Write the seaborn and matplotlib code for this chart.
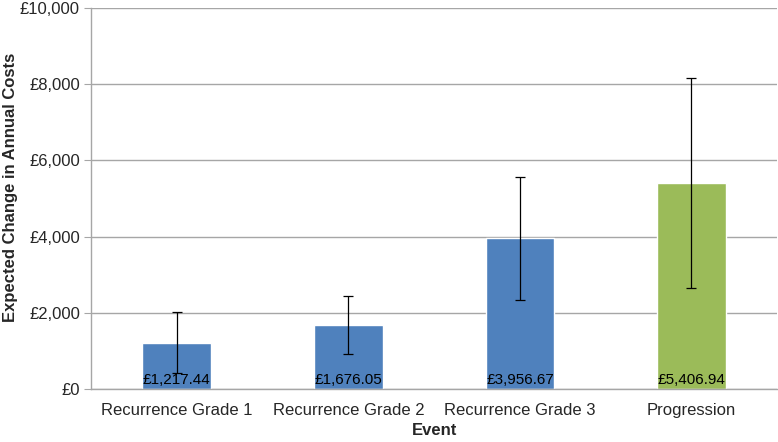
import matplotlib
matplotlib.use("Agg")
import matplotlib.pyplot as plt
from matplotlib.ticker import FuncFormatter, FixedLocator
import numpy as np
import pandas as pd
import seaborn as sns

# ── Data ──────────────────────────────────────────────────────────────────────
events = ["Recurrence Grade 1", "Recurrence Grade 2", "Recurrence Grade 3", "Progression"]
costs = [1217.44, 1676.05, 3956.67, 5406.94]
ci_low = [410, 920, 2335, 2660]
ci_high = [2030, 2435, 5575, 8155]
bar_colors = ["#4F81BD", "#4F81BD", "#4F81BD", "#9BBB59"]

df = pd.DataFrame({"Event": events, "Cost": costs})

# ── Plot ──────────────────────────────────────────────────────────────────────
sns.set_style("white")
plt.rcParams["font.family"] = ["Liberation Sans", "DejaVu Sans"]

fig = plt.figure(figsize=(7.78, 4.42), dpi=100)
ax = fig.add_axes([0.117, 0.12, 0.882, 0.862])

sns.barplot(data=df, x="Event", y="Cost", hue="Event", palette=bar_colors,
            saturation=1, width=0.4, legend=False, errorbar=None, ax=ax, zorder=2)

x = np.arange(len(events))
yerr = [np.array(costs) - np.array(ci_low), np.array(ci_high) - np.array(costs)]
ax.errorbar(x, costs, yerr=yerr, fmt="none", ecolor="black", elinewidth=0.9,
            capsize=3.5, capthick=0.9, zorder=3)

for xi, v in zip(x, costs):
    ax.text(xi, 60, f"£{v:,.2f}", ha="center", va="bottom", fontsize=11,
            color="black", zorder=4)

ax.set_ylim(0, 10000)
ax.set_xlim(-0.5, len(events) - 0.5)
ax.set_yticks(np.arange(0, 10001, 2000))
ax.yaxis.set_major_formatter(FuncFormatter(lambda v, p: f"£{v:,.0f}"))
ax.yaxis.grid(True, color="#A6A6A6", linewidth=1.0, zorder=0)
ax.set_axisbelow(True)

ax.xaxis.set_minor_locator(FixedLocator(np.arange(-0.5, len(events), 1.0)))
ax.tick_params(axis="x", which="major", length=0, labelsize=12, pad=10)
ax.tick_params(axis="x", which="minor", length=5, color="#A6A6A6", direction="out")
ax.tick_params(axis="y", which="major", length=5, color="#A6A6A6", labelsize=12,
               left=True, direction="out", pad=3)

for side in ["top", "right"]:
    ax.spines[side].set_visible(False)
for side in ["left", "bottom"]:
    ax.spines[side].set_color("#A6A6A6")
    ax.spines[side].set_linewidth(1.0)

ax.set_xlabel("Event", fontsize=12, fontweight="bold", labelpad=4)
ax.set_ylabel("Expected Change in Annual Costs", fontsize=12, fontweight="bold")
ax.yaxis.set_label_coords(-0.106, 0.53)

fig.savefig("out.png", dpi=100)
